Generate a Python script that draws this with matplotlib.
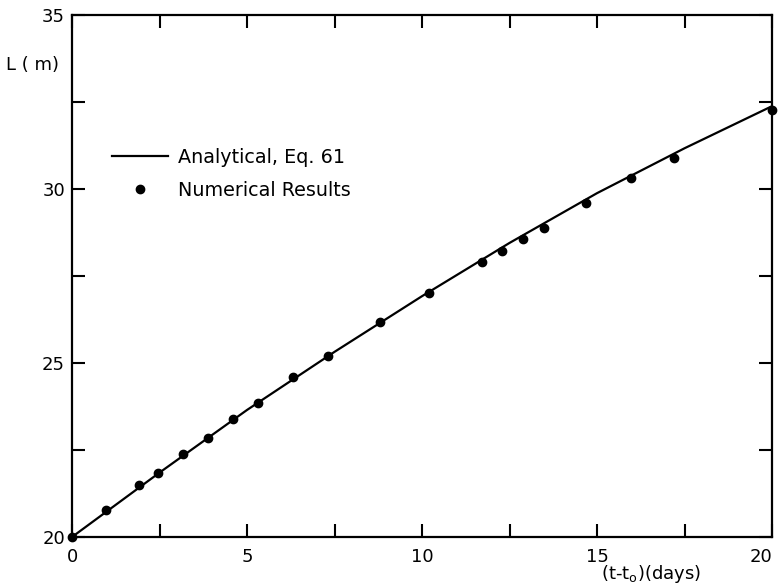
import matplotlib.pyplot as plt
from matplotlib.ticker import MultipleLocator, FuncFormatter

# analytical curve (Eq. 61)
t_line = [0, 2.5, 5, 7.5, 10, 12.5, 15, 17.5, 20]
L_line = [20.0, 21.85, 23.65, 25.32, 26.92, 28.45, 29.88, 31.17, 32.38]

# numerical results
t_num = [0, 0.98, 1.92, 2.47, 3.18, 3.89, 4.60, 5.31, 6.30, 7.31, 8.81,
         10.21, 11.71, 12.29, 12.88, 13.49, 14.69, 15.96, 17.19, 20.0]
L_num = [20.0, 20.77, 21.50, 21.83, 22.38, 22.85, 23.39, 23.84, 24.61, 25.20, 26.19,
         27.02, 27.90, 28.21, 28.55, 28.88, 29.59, 30.31, 30.89, 32.27]

fig = plt.figure(figsize=(7.81, 5.86), dpi=100)
ax = fig.add_axes([72 / 781, 49 / 586, 700 / 781, 522 / 586])

ax.plot(t_line, L_line, 'k-', lw=1.6, label='Analytical, Eq. 61')
ax.plot(t_num, L_num, 'ko', ms=6, ls='none', label='Numerical Results', clip_on=False)

ax.set_xlim(0, 20)
ax.set_ylim(20, 35)
ax.xaxis.set_major_locator(MultipleLocator(2.5))
ax.yaxis.set_major_locator(MultipleLocator(2.5))
# only label every 5
fmt = FuncFormatter(lambda v, p: f"{v:.0f}" if abs(v % 5) < 1e-6 else "")
ax.xaxis.set_major_formatter(fmt)
ax.yaxis.set_major_formatter(fmt)
ax.tick_params(direction='in', length=9.5, width=1.5, labelsize=13,
               top=True, right=True)
ax.tick_params(axis='x', pad=8)
ax.tick_params(axis='y', pad=5)
for s in ax.spines.values():
    s.set_linewidth(1.6)

fig.text(32 / 781, 1 - 65 / 586, 'L ( m)', fontsize=13, ha='center', va='center')
fig.text(651 / 781, 1 / 586, '(t-t$_{\\rm o}$)(days)', fontsize=13,
         ha='center', va='bottom')

ax.legend(loc='upper left', bbox_to_anchor=((112 - 72) / 700, (537 - 148) / 522),
          frameon=False, borderpad=0, borderaxespad=0, fontsize=13.8,
          handlelength=2.9, handletextpad=0.55, labelspacing=0.72, numpoints=1)

# the last x label sits inside the right edge, as in the original
fig.canvas.draw()
for tick in ax.xaxis.get_major_ticks():
    if abs(tick.get_loc() - 20) < 1e-6:
        tick.label1.set_horizontalalignment('right')
        tick.label1.set_x(20.0)

fig.savefig('out.png')
